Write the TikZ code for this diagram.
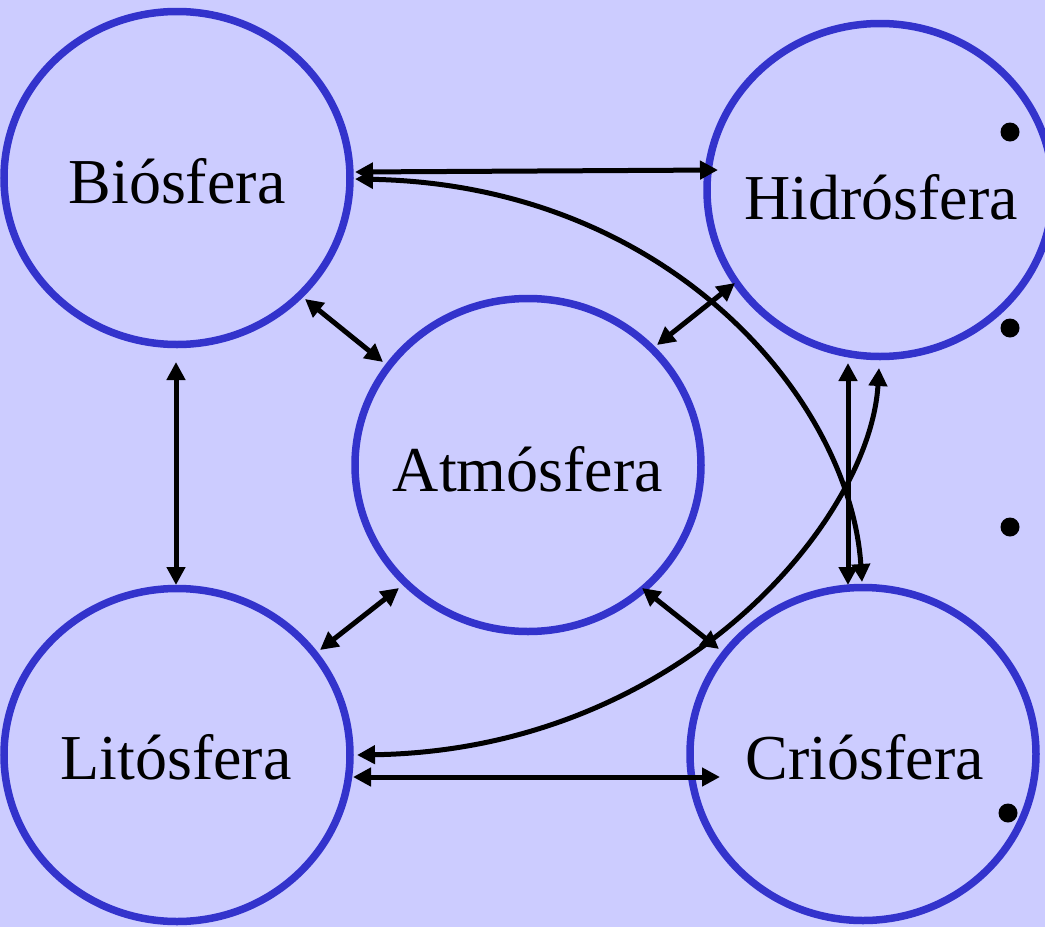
\documentclass[tikz,border=0pt]{standalone}
\usepackage{fontspec}
\setmainfont{Liberation Serif}
\usetikzlibrary{arrows.meta,shapes.geometric,calc}
\definecolor{bgcol}{HTML}{CCCCFF}
\definecolor{ringcol}{HTML}{3333CC}
\begin{document}
\begin{tikzpicture}[x=1pt,y=-1pt,
  sphere/.style={ellipse,draw=ringcol,line width=7.5pt,fill=bgcol,minimum width=346pt,minimum height=333pt,inner sep=0pt},
  lbl/.style={inner sep=0pt,font=\fontsize{64}{70}\selectfont},
  arr/.style={line width=5pt,{Triangle[length=18pt,width=18pt]}-{Triangle[length=18pt,width=18pt]}},
  dot/.style={fill=black}]
\fill[bgcol] (0,0) rectangle (1045,927);
\useasboundingbox (0,0) rectangle (1045,927);
% spheres
\node[sphere] (bio) at (177,178) {};
\node[sphere] (hid) at (880,190) {};
\node[sphere] (atm) at (528,465) {};
\node[sphere] (lit) at (177,755) {};
\node[sphere] (cri) at (863,754) {};
% labels
\node[lbl] (biot) at (177,181) {Biósfera};
\node[lbl] (hidt) at (881,197) {Hidrósfera};
\node[lbl] (atmt) at (528,469) {Atmósfera};
\node[lbl] (litt) at (176,757) {Litósfera};
\node[lbl] (crit) at (865,757) {Criósfera};
% straight connectors
\draw[arr] ($(bio)+(178,-6)$) -- ($(hid)+(-162,-20)$);
\draw[arr] ($(bio)+(-1,184)$) -- ($(lit)+(-1,-170)$);
\draw[arr] ($(lit)+(176,22)$) -- ($(cri)+(-143,23)$);
\draw[arr] ($(hid)+(-32,173)$) -- ($(cri)+(-15,-169)$);
\draw[arr] ($(bio)+(128,121)$) -- ($(atm)+(-145,-103)$);
\draw[arr] ($(atm)+(129,-120)$) -- ($(hid)+(-145,93)$);
\draw[arr] ($(atm)+(-129,123)$) -- ($(lit)+(143,-105)$);
\draw[arr] ($(atm)+(114,123)$) -- ($(cri)+(-144,-105)$);
% curved connectors
\draw[arr] ($(bio)+(178,1)$) .. controls (670,185) and (850,400) .. ($(cri)+(-1,-172)$);
\draw[arr] ($(lit)+(180,0)$) .. controls (680,750) and (870,520) .. ($(hid)+(-1,178)$);
% bullets
\fill[dot] (1010,132) circle (9.5);
\fill[dot] (1010,328) circle (9.5);
\fill[dot] (1010,527) circle (9.5);
\fill[dot] (1008,813) circle (9.5);
\end{tikzpicture}
\end{document}
